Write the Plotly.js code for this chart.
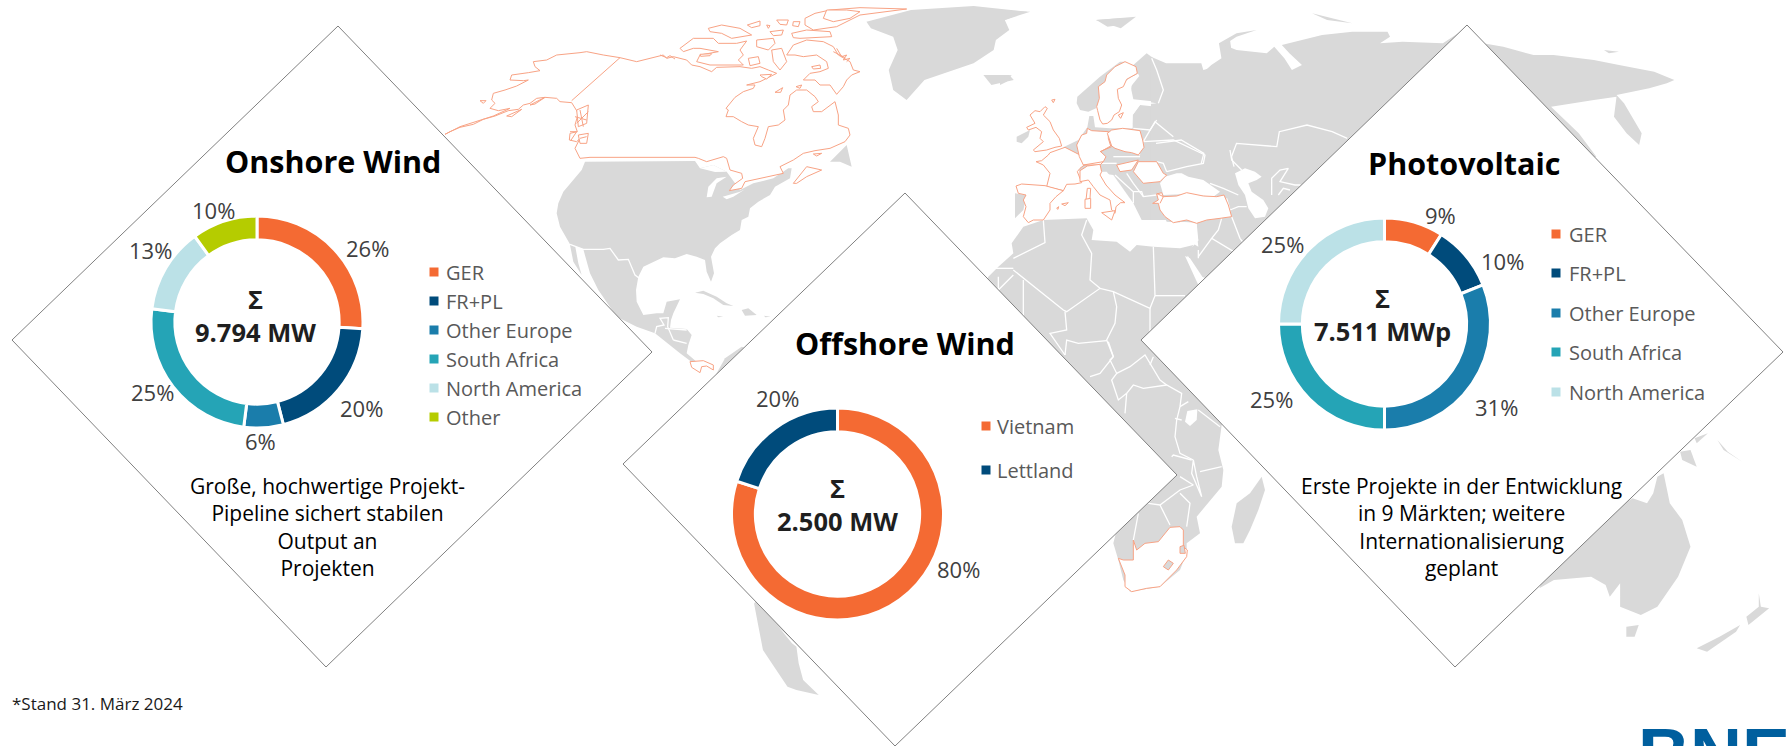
<!DOCTYPE html>
<html><head><meta charset="utf-8">
<script src="https://cdn.plot.ly/plotly-3.0.1.min.js"></script>
<style>html,body{margin:0;padding:0;background:#fff;overflow:hidden}#c{width:1789px;height:746px}</style>
</head><body><div id="c"></div>
<script>
// ---------- chart data ----------
const onshoreCats = ['GER','FR+PL','Other Europe','South Africa','North America','Other'];
const onshoreVals = [26,20,6,25,13,10];
const offshoreCats = ['Vietnam','Lettland'];
const offshoreVals = [80,20];
const pvCats = ['GER','FR+PL','Other Europe','South Africa','North America'];
const pvVals = [9,10,31,25,25];
const catColors = {'GER':'#F46A33','FR+PL':'#004B7B','Other Europe':'#1A7DAB','South Africa':'#25A4B6','North America':'#BBE1E7','Other':'#B5CC00','Vietnam':'#F46A33','Lettland':'#004B7B'};
const onshoreTotal = '9.794 MW', offshoreTotal = '2.500 MW', pvTotal = '7.511 MWp';
const bodyOn = ['Große, hochwertige Projekt-','Pipeline sichert stabilen','Output an','Projekten'];
const bodyPv = ['Erste Projekte in der Entwicklung','in 9 Märkten; weitere','Internationalisierung','geplant'];

// ---------- background map outlines (picture coordinates: frame origin, scale) ----------
const frA=[1000,40,3,3], frB=[980,210,3,3], frC=[440,10,3,3], frD=[540,150,3,3], frH=[660,5,3,3], frI=[1180,150,3,3];
const frG=[420,0,2.24,3], frE=[1000,0,1.987,3], frS=[600,380,2.24,3], frO=[1140,380,2.416,3];
const land = [
 [frD,'125,60 135,35 465,33 480,55 520,45 560,65 600,120 640,100 700,85 745,55 755,55 750,85 705,110 690,135 655,155 630,175 625,200 605,210 600,240 575,255 540,280 525,295 513,320 522,370 513,395 500,365 495,330 470,320 440,312 405,325 370,322 340,335 310,350 295,380 288,420 290,455 310,495 350,490 370,490 380,455 420,448 400,490 393,510 390,533 440,537 455,555 445,585 440,610 475,640 460,640 420,610 345,550 290,530 230,500 175,420 150,370 130,298 90,283 60,230 50,190 55,160 70,125 100,90'],
 [frD,'90,285 105,285 115,340 125,375 100,335'],
 [frD,'465,428 490,422 530,440 560,460 580,468 550,465 520,445 490,432;605,480 625,475 650,495 615,497;530,497 550,500 535,502;672,497 692,500 676,502'],
 [frC,'1170,455 1220,405 1235,470 1200,455'],
 [frD,'530,670 555,625 605,590 800,640 800,900 500,900'],
 [frS,'345,670 375,700 400,740 430,790 440,800 445,850 455,900 490,945 440,930 420,920 390,860 365,810 355,740;345,670 600,400 700,500 500,870'],
 [frG,'1000,65 1100,30 1240,18 1360,35 1310,60 1320,90 1290,120 1285,150 1240,190 1130,240 1090,300 1060,270 1050,210 1070,150 1060,110 1010,85;1262,225 1320,225 1330,240 1280,255;1515,60 1568,55 1568,75 1540,80'],
 [frE,'0,30 60,35 10,60;190,60 270,50 240,85;620,40 700,70 650,60;1200,150 1230,155 1210,160'],
 [frA,'190,322 235,300 262,262 268,228 280,228 285,262 330,265 395,265 398,225 420,195 470,200 485,187 400,178 392,140 418,108 400,75 440,40 480,70 570,95 530,118 575,125 610,90 700,65 780,48 780,540 700,545 595,600 590,550 500,545 480,500 470,470 470,490 455,540 425,540 400,490 345,425 320,395 240,395'],
 [frA,'232,170 300,110 360,65 375,65 415,100 350,140 300,170 288,205 265,215 240,210 230,190;45,460 80,465 70,510 45,535;50,290 90,270 85,290 65,310 50,305;0,110 35,105 20,125 0,135;660,10 690,0 695,35 670,25'],
 [frE,'300,170 330,190 400,190 405,215 420,195 440,175 435,130 470,100 510,90 470,110 445,135 470,150 530,160 545,140 565,175 580,210 600,195 575,160 560,135 600,120 640,105 700,95 770,95 775,110 755,130 800,125 880,130 930,80 960,130 1000,140 1060,165 1100,165 1180,180 1230,195 1300,215 1340,240 1325,250 1290,265 1225,285 1240,310 1275,400 1270,435 1245,400 1220,350 1225,290 1180,300 1095,320 1150,400 1185,470 900,600 560,900 400,830 370,760 395,720 395,660 300,660'],
 [frB,'25,200 55,170 100,130 95,100 130,50 190,30 320,25 340,60 335,90 410,95 450,125 470,105 520,110 600,115 640,105 622,140 662,225 800,600 725,645 715,720 730,780 725,830 650,920 660,970 620,1000 620,1030 600,1080 540,1130 450,1145 430,1110 415,1050 400,1000 410,960 500,860 300,600 0,250'],
 [frB,'845,800 855,840 835,900 810,960 790,1000 765,1000 755,950 770,880 810,850'],
 [frO,'965,625 1000,600 1090,590 1125,615 1135,650 1160,610 1160,680 1210,705 1250,680 1300,590 1330,500 1310,420 1280,370 1265,280 1250,290 1240,340 1225,370 1190,355 1000,500;1175,740 1205,735 1195,770 1175,770;1495,640 1500,680 1520,685 1470,735 1465,710 1495,680;1450,735 1440,755 1370,815 1345,805 1400,770;1305,215 1330,210 1345,260 1310,240;1340,175 1372,160 1345,190;1395,180 1420,215 1455,245 1410,210']
];
const seas = [
 [frD,'480,55 520,45 560,65 525,66;500,142 505,110 530,85 560,80 530,100 515,140;548,140 600,125 615,118 580,140 560,148'],
 [frA,'495,410 530,400 545,400 565,410 610,420 660,455 640,470 560,462 490,465 480,430;350,145 395,110 415,105 395,135 390,178 470,190 420,195 398,225 398,265 320,262 300,250;300,400 340,405 400,490 370,480'],
 [frI,'165,70 195,55 225,65 245,80 230,90 205,100 215,125 250,150 265,175 255,200 225,205 205,175 195,135 175,105;0,215 50,218 50,245 55,290 30,275 0,280;15,318 30,325 70,385 55,405'],
 [frB,'622,603 652,598 650,630 630,648 615,635']
];
const whiteBorders = [
 [frD,'90,283 130,298 190,298 210,295 235,330 265,328 285,375 298,385;345,550 350,530 372,525 360,505 385,503 383,530 400,570;375,535 440,540;400,570 440,580'],
 [frB,'100,145 195,98 190,30;320,30 305,75 335,130 330,210 360,235;100,180 250,300 260,305 360,235 400,245 510,295 525,257 520,110;400,245 410,290 405,340 380,390 400,440 390,450 410,490 395,510 415,570 440,550 435,610;525,257 615,257;510,295 510,365 490,390;255,305 260,360 210,370 255,435;380,392 340,395 295,400 260,390 255,435;385,395 400,440 360,490 330,500;410,490 450,470 495,435 540,510 560,525;440,550 460,525 490,535 560,525 605,550 600,590 590,630 585,680 600,730 640,750;640,750 635,790 665,860 650,800 640,750;660,785 725,770;575,740 580,735 635,750;600,800 640,825 600,840 540,885 505,880;540,885 570,945;600,850 630,880 620,950;475,910 460,990;655,600 720,650;510,465 520,440;130,210 130,320;55,200 55,240 100,195;30,175 100,175;600,590 625,575;585,625 605,630'],
 [frE,'460,470 470,430 550,440 555,395 610,375 660,395 690,415;460,470 465,500;310,430 360,420 405,460 400,490'],
 [frI,'150,0 155,30 185,60;275,135 275,85 300,60 325,55 300,95 345,105 362,105;295,135 310,115 330,120;90,100 130,115 175,135;140,145 150,180 175,170 200,170;155,200 180,265 195,285;125,205 115,240 95,265 130,285 170,310;95,265 55,320;55,300 55,325'],
 [frA,'430,305 520,300 615,345 610,370 560,380 500,395;430,305 465,245 520,290;400,265 450,270 470,240;475,190 490,150 470,90 455,55;470,365 490,370 500,395;380,400 400,430 430,470 470,465;345,405 400,455 400,490;400,455 425,455 430,470;340,350 420,350;300,370 350,370;355,305 420,345']
];
const orangeLand = [
 [frC,'15,373 30,365 60,352 100,343 130,328 165,318 205,302 235,298 250,285 270,280 290,265 315,262 350,265 360,275 395,278 405,295 415,310 405,345 412,365 390,370 388,390 410,395 420,385 405,415 420,445 450,442 765,442 775,445 800,455 850,440 860,445 870,480 905,490 908,505 885,520 880,525 868,542 905,535 915,515 960,505 1010,495 1030,490 1020,470 1060,450 1090,430 1125,422 1170,415 1215,395 1230,375 1225,355 1195,345 1195,315 1185,275 1160,295 1145,305 1120,305 1115,290 1135,275 1125,260 1100,240 1070,240 1050,255 1045,285 1030,300 1035,330 1015,345 985,350 975,385 965,410 945,405 940,385 955,350 925,345 905,335 880,320 858,320 865,300 858,295 885,262 910,245 940,235 945,225 920,225 960,215 980,205 1010,190 985,180 960,170 935,175 900,170 830,172 815,185 780,170 755,165 740,150 700,140 680,145 670,135 590,155 570,150 540,143 490,135 440,125 420,128 350,135 320,150 280,155 285,170 300,182 265,188 215,195 210,210 250,212 265,210 230,228 195,240 160,250 155,270 165,280 150,295 175,302 210,295 160,318 60,350'],
 [frH,'60,130 100,100 160,100 175,115 230,115 260,108 240,135 250,150 235,165 250,180 150,180 110,170 120,150 175,140 120,130 100,130 70,140;300,210 335,208 320,222 305,215;145,70 185,60 240,70 275,90 215,100 185,85 150,80;262,60 300,48 300,62 275,68;350,45 385,45 380,60 360,58;400,50 420,50 415,65 398,62;320,60 330,62 325,70;435,40 465,25 510,15 600,8 740,12 600,30 530,65 490,70 460,75 435,60;500,15 560,15 600,20 570,40 520,50 490,40;330,80 370,75 365,90 340,92;395,85 440,75 510,80 515,95 420,100 400,98;290,105 340,100 345,115 325,135 290,125;335,135 365,130 380,170 360,195 340,170;265,160 295,155 300,175 270,182;380,150 400,120 440,105 490,110 520,125 535,150 570,170 580,195 600,200 575,210 560,225 550,245 530,268 510,240 480,240 465,225 430,225 450,205 480,200 505,190 500,170 470,150 430,155 405,150;455,185 480,180 482,190 460,192;345,262 368,248 362,262;408,245 425,240 420,250;120,148 155,146 150,152 122,154'],
 [frC,'120,272 138,272 130,280;200,318 245,298 215,320;270,285 315,262 285,282;1060,520 1100,470 1145,480 1100,500 1070,520;1120,432 1145,430 1130,438;410,300 445,285 440,340 415,350;415,375 445,370 440,400 420,400'],
 [frD,'450,635 490,632 520,645 520,660 500,648 485,650 480,668 455,652'],
 [frA,'105,212 120,215 135,200 142,205 130,225 150,245 160,270 178,295 185,318 165,322 140,330 105,335 100,330 130,305 120,295 125,275 108,262 85,270 80,262 105,250 90,225;155,180 165,178 160,188;108,365 125,362 145,345 150,338 195,322 240,345 262,368 240,385 232,395 245,428 225,432 200,433 190,452 165,445 140,440 150,400 130,375;48,438 65,432 135,437 190,452 168,470 150,490 150,510 130,540 100,540 85,548 70,530 78,500 70,480 78,465 55,460;262,445 272,445 270,475 258,480;255,478 272,475 272,505 255,505;170,505 176,500 174,508;185,492 205,488 195,497;262,265 275,272 325,275 325,295 332,318 302,335 318,350 310,365 300,375 250,375 238,350 230,315 245,285 260,280;322,280 335,270 368,265 420,272 428,300 432,322 415,345 395,338 375,335 345,325 335,318;350,375 415,360 395,390 360,395;415,365 470,365 490,400 500,405 480,425 430,430 400,395;240,392 262,378 300,373 305,395 300,405 318,435 345,465 375,488 362,488 348,500 345,520 335,510 330,480 300,465 280,440 265,420 240,425;305,518 345,512 335,540;375,65 390,72 408,80 412,100 395,110 380,118 370,140 352,148 355,175 365,195 358,215 342,225 335,240 322,250 308,252 300,240 293,212 290,200 298,175 295,140 315,125 320,105 345,80;355,225 370,218 362,235;470,462 485,458 490,470 530,468 560,458 610,468 650,470 672,465 685,495 695,530 660,535 620,540 590,550 560,540 520,548 495,530 480,510 475,490 458,490 475,480'],
 [frB,'460,990 460,1050 430,1050 415,1045 435,1095 435,1130 455,1145 500,1135 540,1130 590,1080 620,1040 622,1020 610,1010 610,960 600,950 570,952 535,995 495,1000 470,1020']
];
const orangeGray = [[frB,'550,1070 565,1050 580,1060 565,1080;600,1010 612,1006 616,1030 600,1030']];
const orangeLines = [
 [frC,'540,143 395,272;420,300 430,350;405,320 440,330;410,340 445,305;390,365 410,365 392,392;420,385 440,380'],
 [frH,'530,130 545,155 560,150 550,165 570,160 560,170;520,140 555,158;0,150 20,158 30,152 45,162'],
 [frA,'335,320 300,335;250,375 310,365;470,460 490,470 480,490']
];
const diamonds = [
 [[338,26],[652,352],[326,667],[12,340]],
 [[905,193],[1177,475],[895,746],[623,464]],
 [[1467,25],[1783,352],[1455,667],[1141,340]]
];

// ---------- layout of the three panels ----------
const panels = [
 {cats:onshoreCats, vals:onshoreVals, total:onshoreTotal, title:'Onshore Wind', tx:333, ty:161, cx:257, cy:322,
  lab:[[367,248],[361,408],[260,441],[152,392],[150,250],[213,210]],
  sx:434, lx:444, ly:[272,301,330,359,388,417], sumX:255, sumY:315, body:bodyOn, bx:327},
 {cats:offshoreCats, vals:offshoreVals, total:offshoreTotal, title:'Offshore Wind', tx:905, ty:343, cx:837.5, cy:514,
  lab:[[958,569],[777,398]], sx:986, lx:995, ly:[426,470], sumX:837.5, sumY:504, body:[], bx:0},
 {cats:pvCats, vals:pvVals, total:pvTotal, title:'Photovoltaic', tx:1464, ty:163, cx:1384.5, cy:324,
  lab:[[1440,215],[1502,261],[1496,407],[1271,399],[1282,244]],
  sx:1556, lx:1567, ly:[234,273,313,352,392], sumX:1382.5, sumY:314, body:bodyPv, bx:1461}
];
const R = 106, HOLE = 0.775, W = 1789, H = 746;
const FONT = '"Open Sans", "Noto Sans", sans-serif';

function polygons(list){
  const out=[];
  list.forEach(([f,s])=>{
    s.split(';').forEach(poly=>{
      const x=[],y=[];
      poly.trim().split(/\s+/).forEach(p=>{
        const [a,b]=p.split(',').map(Number);
        x.push(f[0]+a/f[2]); y.push(f[1]+b/f[3]);
      });
      out.push({x,y});
    });
  });
  return out;
}
const base = {type:'scatter', hoverinfo:'skip', showlegend:false, xaxis:'x', yaxis:'y'};
const traces = [];
function addFilled(list,fill,lineColor,lineW){
  polygons(list).forEach(g=>traces.push({...base,x:[...g.x,g.x[0]],y:[...g.y,g.y[0]],mode:'lines',
    line:{width:lineW,color:lineColor},fill:'toself',fillcolor:fill}));
}
function addLines(list,color,w){
  polygons(list).forEach(g=>traces.push({...base,x:g.x,y:g.y,mode:'lines',line:{width:w,color}}));
}
addFilled(land,'#D9D9D9','#D9D9D9',0);
addFilled(seas,'#FFFFFF','#FFFFFF',0);
addLines(whiteBorders,'#FFFFFF',1.3);
addFilled(orangeLand,'#FFFFFF','#F8A385',1);
addFilled(orangeGray,'#D9D9D9','#F8A385',1);
addLines(orangeLines,'#F8A385',1);
diamonds.forEach(d=>{
  const c=[...d,d[0]];
  traces.push({...base, x:c.map(p=>p[0]), y:c.map(p=>p[1]), mode:'lines', line:{width:1,color:'#808080'}, fill:'toself', fillcolor:'#FFFFFF'});
});

const annotations = [];
function note(text,x,y,size,color,opts){
  annotations.push(Object.assign({text, x, y, xref:'x', yref:'y', showarrow:false, xanchor:'center', yanchor:'middle',
    font:{family:FONT,size,color}}, opts||{}));
}
panels.forEach(p=>{
  traces.push({type:'pie', values:p.vals, labels:p.cats, sort:false, direction:'clockwise', rotation:0, hole:HOLE,
    textinfo:'none', hoverinfo:'label+percent', showlegend:false,
    marker:{colors:p.cats.map(c=>catColors[c]), line:{color:'#FFFFFF',width:3}},
    domain:{x:[(p.cx-R)/W,(p.cx+R)/W], y:[1-(p.cy+R)/H,1-(p.cy-R)/H]}});
  traces.push({...base, x:p.cats.map(()=>p.sx), y:p.ly, mode:'markers',
    marker:{symbol:'square',size:9,color:p.cats.map(c=>catColors[c]),line:{width:0}}});
  note('<b>'+p.title+'</b>',p.tx,p.ty,30.5,'#000000');
  note('<b>Σ<br>'+p.total+'</b>',p.sumX,p.sumY,25.5,'#1F1F1F');
  p.vals.forEach((v,i)=>note(v+'%',p.lab[i][0],p.lab[i][1],22,'#404040'));
  p.cats.forEach((c,i)=>note(c,p.lx,p.ly[i],20,'#595959',{xanchor:'left'}));
  if(p.body.length) note(p.body.join('<br>'),p.bx,527,21,'#000000');
});
note('*Stand 31. März 2024',10,703,17,'#1A1A1A',{xanchor:'left'});
annotations.push({text:'<b>BNE</b>',xref:'paper',yref:'paper',x:1714/W,y:1-712/H,xanchor:'center',yanchor:'top',showarrow:false,
  font:{family:'"Liberation Sans", sans-serif',size:72,color:'#005F9E'}});

Plotly.newPlot('c',traces,{
  width:W,height:H,margin:{l:0,r:0,t:0,b:0},paper_bgcolor:'#FFFFFF',plot_bgcolor:'#FFFFFF',showlegend:false,
  xaxis:{range:[0,W],visible:false,fixedrange:true},
  yaxis:{range:[H,0],visible:false,fixedrange:true},
  annotations
},{displayModeBar:false,staticPlot:true});
</script></body></html>
